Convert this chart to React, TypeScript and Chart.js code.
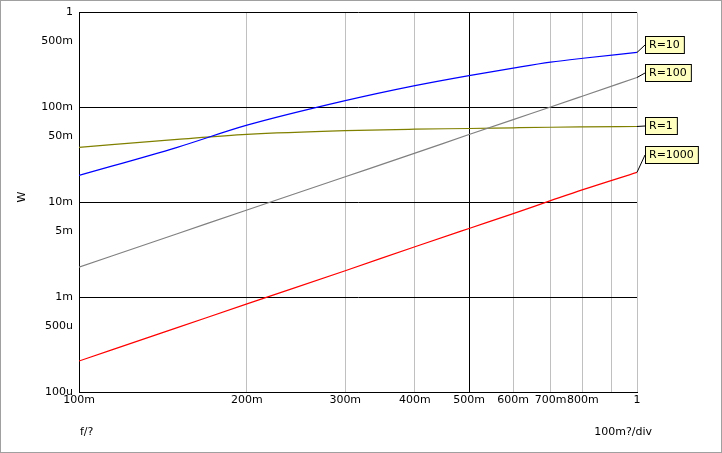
import React, { useEffect, useRef } from "react";
import { Chart, registerables } from "chart.js";
Chart.register(...registerables);

const freq = [0.1, 0.15, 0.2, 0.3, 0.4, 0.5, 0.6, 0.7, 0.8, 1.0];
const r10 = [0.0192, 0.038, 0.065, 0.118, 0.17, 0.217, 0.26, 0.3, 0.33, 0.38];
const r100 = [0.00207, 0.00466, 0.0083, 0.0186, 0.033, 0.0518, 0.0745, 0.101, 0.132, 0.207];
const r1 = [0.038, 0.046, 0.052, 0.057, 0.059, 0.060, 0.061, 0.0618, 0.0623, 0.063];
const r1000 = [0.000212, 0.000477, 0.00085, 0.0019, 0.0034, 0.0053, 0.0076, 0.0104, 0.0136, 0.0207];
const seriesNames = ["R=10", "R=100", "R=1", "R=1000"];
const seriesColors = ["#0000ff", "#808080", "#808000", "#ff0000"];
const labelY = [45, 73, 126, 155];
const yTicks = [1e-4, 5e-4, 1e-3, 5e-3, 1e-2, 5e-2, 1e-1, 5e-1, 1];
const yTickLabels = ["100u", "500u", "1m", "5m", "10m", "50m", "100m", "500m", "1"];
const xTicks = [0.1, 0.2, 0.3, 0.4, 0.5, 0.6, 0.7, 0.8, 0.9, 1];
const xTickLabels = ["100m", "200m", "300m", "400m", "500m", "600m", "700m", "800m", "", "1"];

export default function App() {
  const ref = useRef<HTMLCanvasElement>(null);
  useEffect(() => {
    document.body.style.margin = "0";
    const all = [r10, r100, r1, r1000];
    const font = { family: "DejaVu Sans", size: 11 };
    const labelsPlugin = {
      id: "labels",
      afterDraw(chart: any) {
        const ctx = chart.ctx;
        const xs = chart.scales.x, ys = chart.scales.y;
        ctx.save();
        ctx.font = "11px DejaVu Sans";
        ctx.fillStyle = "#000";
        ctx.textBaseline = "middle";
        ctx.fillText("f/?", 80, 432);
        ctx.textAlign = "right";
        ctx.fillText("100m?/div", 652, 432);
        ctx.textAlign = "left";
        ctx.save();
        ctx.translate(22, 197);
        ctx.rotate(-Math.PI / 2);
        ctx.textAlign = "center";
        ctx.fillText("W", 0, 0);
        ctx.restore();
        all.forEach((d, i) => {
          const px = xs.getPixelForValue(freq[freq.length - 1]);
          const py = ys.getPixelForValue(d[d.length - 1]);
          const by = labelY[i];
          ctx.strokeStyle = "#000";
          ctx.lineWidth = 1;
          ctx.beginPath();
          ctx.moveTo(px, py);
          ctx.lineTo(645, by);
          ctx.stroke();
          const w = ctx.measureText(seriesNames[i]).width + 8;
          ctx.fillStyle = "#ffffc0";
          ctx.fillRect(645.5, by - 8.5, w, 17);
          ctx.strokeRect(645.5, by - 8.5, w, 17);
          ctx.fillStyle = "#000";
          ctx.fillText(seriesNames[i], 649, by);
        });
        ctx.strokeStyle = "#a0a0a0";
        ctx.strokeRect(0.5, 0.5, 721, 452);
        ctx.restore();
      },
    };
    const chart = new Chart(ref.current!, {
      type: "line",
      data: {
        datasets: all.map((d, i) => ({
          label: seriesNames[i],
          data: d.map((v, j) => ({ x: freq[j], y: v })),
          borderColor: seriesColors[i],
          borderWidth: 1.2,
          pointRadius: 0,
          cubicInterpolationMode: "monotone" as const,
        })),
      },
      options: {
        animation: false,
        responsive: false,
        layout: { padding: { top: 12, right: 85, left: 0, bottom: 0 } },
        plugins: { legend: { display: false }, tooltip: { enabled: false } },
        scales: {
          x: {
            type: "logarithmic",
            min: 0.1,
            max: 1,
            afterBuildTicks: (s: any) => { s.ticks = xTicks.map((v) => ({ value: v })); },
            afterFit: (s: any) => { s.height = 61; },
            ticks: {
              autoSkip: false,
              maxRotation: 0,
              color: "#000",
              font,
              padding: 2,
              callback: (_v: any, i: number) => xTickLabels[i],
            },
            grid: {
              color: (c: any) => (c.tick && c.tick.value === 0.5 ? "#000" : "#c0c0c0"),
              drawTicks: false,
            },
            border: { color: "#000" },
          },
          y: {
            type: "logarithmic",
            min: 1e-4,
            max: 1,
            afterBuildTicks: (s: any) => { s.ticks = yTicks.map((v) => ({ value: v })); },
            afterFit: (s: any) => { s.width = 79; },
            ticks: {
              autoSkip: false,
              color: "#000",
              font,
              padding: 6,
              callback: (_v: any, i: number) => yTickLabels[i],
            },
            grid: {
              color: (c: any) => (c.index % 2 === 0 ? "#000" : "rgba(0,0,0,0)"),
              drawTicks: false,
            },
            border: { color: "#000" },
          },
        },
      },
      plugins: [labelsPlugin],
    });
    return () => chart.destroy();
  }, []);
  return <canvas ref={ref} width={722} height={453} style={{ display: "block" }} />;
}
